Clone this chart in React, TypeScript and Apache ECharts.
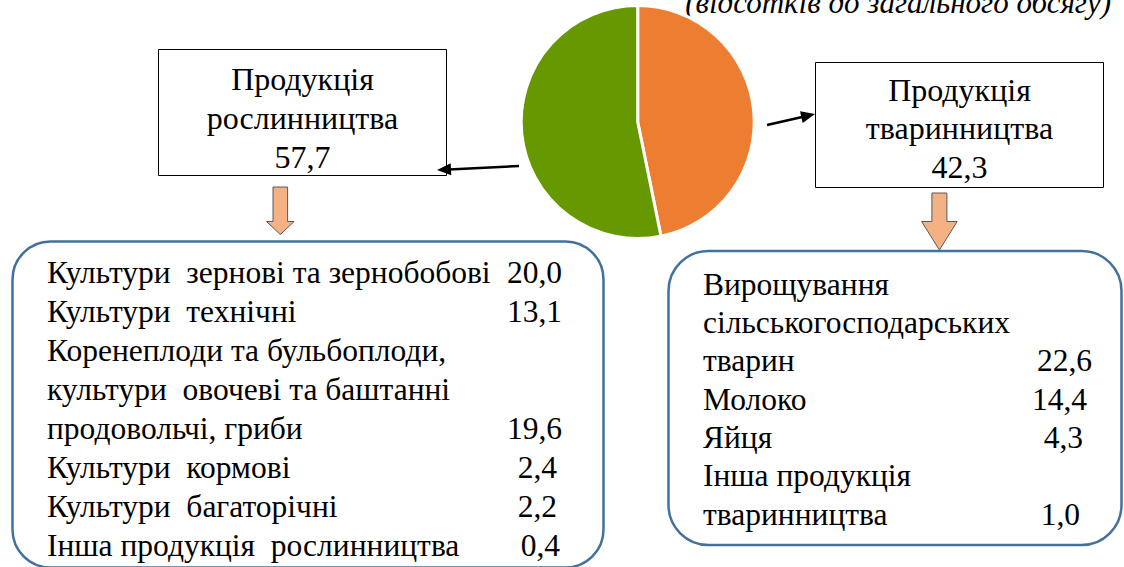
import React, { useEffect, useRef } from "react";
import * as echarts from "echarts";

// ---- data ----
const pieNames = ["Продукція рослинництва", "Продукція тваринництва"];
const pieShares = [53.2, 46.8]; // slice sizes as drawn in the reference pie
const pieColors = ["#669900", "#ED7D31"];
const totalTitles = [["Продукція", "рослинництва"], ["Продукція", "тваринництва"]];
const totalValues = [57.7, 42.3];

const cropCategories = [
  ["Культури\u00a0 зернові та зернобобові"],
  ["Культури\u00a0 технічні"],
  ["Коренеплоди та бульбоплоди,", "культури\u00a0 овочеві та баштанні", "продовольчі, гриби"],
  ["Культури\u00a0 кормові"],
  ["Культури\u00a0 багаторічні"],
  ["Інша продукція\u00a0 рослинництва"],
];
const cropValues = [20.0, 13.1, 19.6, 2.4, 2.2, 0.4];

const animalCategories = [
  ["Вирощування", "сільськогосподарських", "тварин"],
  ["Молоко"],
  ["Яйця"],
  ["Інша продукція", "тваринництва"],
];
const animalValues = [22.6, 14.4, 4.3, 1.0];

const subtitle = "(відсотків до загального обсягу)";

// ---- layout ----
const FAM = "'Liberation Serif', 'Times New Roman', serif";
const FS_LIST = 31.5;
const FS_BOX = 32;
const FS_SUB = 31;
const cropValueRight = [562, 562, 562, 557, 557, 560];
const animalValueRight = [1092, 1087, 1083, 1080];

const fmt = (v: number) => v.toFixed(1).replace(".", ",");
const mid = (baseline: number, fs: number) => baseline - 0.34 * fs;

function txt(text: string, x: number, baseline: number, align: string, fs: number, style = "normal") {
  return {
    type: "text",
    x,
    y: mid(baseline, fs),
    silent: true,
    style: {
      text,
      fill: "#000",
      font: `${style} normal ${fs}px ${FAM}`,
      align,
      verticalAlign: "middle",
    },
  };
}

function arrow(x1: number, y1: number, x2: number, y2: number) {
  const dx = x2 - x1;
  const dy = y2 - y1;
  const L = Math.hypot(dx, dy);
  const ux = dx / L;
  const uy = dy / L;
  const len = 14;
  const half = 6;
  const bx = x2 - ux * len;
  const by = y2 - uy * len;
  return [
    {
      type: "line",
      silent: true,
      shape: { x1, y1, x2: bx + ux * 2, y2: by + uy * 2 },
      style: { stroke: "#000", lineWidth: 2.5 },
    },
    {
      type: "polygon",
      silent: true,
      shape: {
        points: [
          [x2, y2],
          [bx - uy * half, by + ux * half],
          [bx + uy * half, by - ux * half],
        ],
      },
      style: { fill: "#000" },
    },
  ];
}

function blockArrow(cx: number, top: number, headY: number, tip: number, shaftHalf: number, headHalf: number) {
  return {
    type: "polygon",
    silent: true,
    shape: {
      points: [
        [cx - shaftHalf, top],
        [cx + shaftHalf, top],
        [cx + shaftHalf, headY],
        [cx + headHalf, headY],
        [cx, tip],
        [cx - headHalf, headY],
        [cx - shaftHalf, headY],
      ],
    },
    style: { fill: "#F4B183", stroke: "#5a5a5a", lineWidth: 1 },
  };
}

function buildGraphics() {
  const g: any[] = [];
  // subtitle (cut off at the top, as in the reference)
  g.push(txt(subtitle, 1111, 13, "right", FS_SUB, "italic"));

  const boxes = [
    { x: 158.5, y: 49.5, w: 288, h: 126, cx: 302.5, b0: 90 },
    { x: 815.5, y: 62.5, w: 288, h: 125, cx: 959.5, b0: 100.5 },
  ];
  boxes.forEach((b, i) => {
    g.push({
      type: "rect",
      silent: true,
      shape: { x: b.x, y: b.y, width: b.w, height: b.h },
      style: { fill: "#fff", stroke: "#000", lineWidth: 1 },
    });
    const lines = [...totalTitles[i], fmt(totalValues[i])];
    lines.forEach((t, k) => g.push(txt(t, b.cx, b.b0 + k * 38.8, "center", FS_BOX)));
  });

  g.push(...arrow(519, 166, 437, 170));
  g.push(...arrow(767, 125, 815, 114));

  g.push(blockArrow(280.3, 187, 221.5, 234.5, 7.3, 13.8));
  g.push(blockArrow(939.4, 193, 221.5, 250, 7.5, 17.8));

  g.push({
    type: "rect",
    silent: true,
    shape: { x: 12.5, y: 241.5, width: 591, height: 326, r: 38 },
    style: { fill: "none", stroke: "#41719C", lineWidth: 2.5 },
  });
  g.push({
    type: "rect",
    silent: true,
    shape: { x: 668.5, y: 251, width: 453, height: 294, r: 40 },
    style: { fill: "none", stroke: "#41719C", lineWidth: 2.5 },
  });

  let row = 0;
  cropCategories.forEach((lines, i) => {
    lines.forEach((t, k) => {
      const base = 283 + (row + k) * 39.1;
      g.push(txt(t, 47, base, "left", FS_LIST));
      if (k === lines.length - 1) g.push(txt(fmt(cropValues[i]), cropValueRight[i], base, "right", FS_LIST));
    });
    row += lines.length;
  });

  row = 0;
  animalCategories.forEach((lines, i) => {
    lines.forEach((t, k) => {
      const base = 295 + (row + k) * 38.3;
      g.push(txt(t, 703, base, "left", FS_LIST));
      if (k === lines.length - 1) g.push(txt(fmt(animalValues[i]), animalValueRight[i], base, "right", FS_LIST));
    });
    row += lines.length;
  });
  return g;
}

export default function App() {
  const ref = useRef<HTMLDivElement>(null);
  useEffect(() => {
    document.body.style.margin = "0";
    const chart = echarts.init(ref.current!, undefined, { renderer: "svg" });
    chart.setOption({
      animation: false,
      backgroundColor: "#fff",
      series: [
        {
          type: "pie",
          center: [637.7, 122],
          radius: 116.5,
          startAngle: 90,
          clockwise: true,
          silent: true,
          label: { show: false },
          labelLine: { show: false },
          itemStyle: { borderColor: "#fff", borderWidth: 3 },
          data: [
            { name: pieNames[1], value: pieShares[1], itemStyle: { color: pieColors[1] } },
            { name: pieNames[0], value: pieShares[0], itemStyle: { color: pieColors[0] } },
          ],
        },
      ],
      graphic: { elements: buildGraphics() },
    });
    return () => chart.dispose();
  }, []);
  return (
    <div
      ref={ref}
      style={{ position: "fixed", left: 0, top: 0, width: 1124, height: 567 }}
    />
  );
}
